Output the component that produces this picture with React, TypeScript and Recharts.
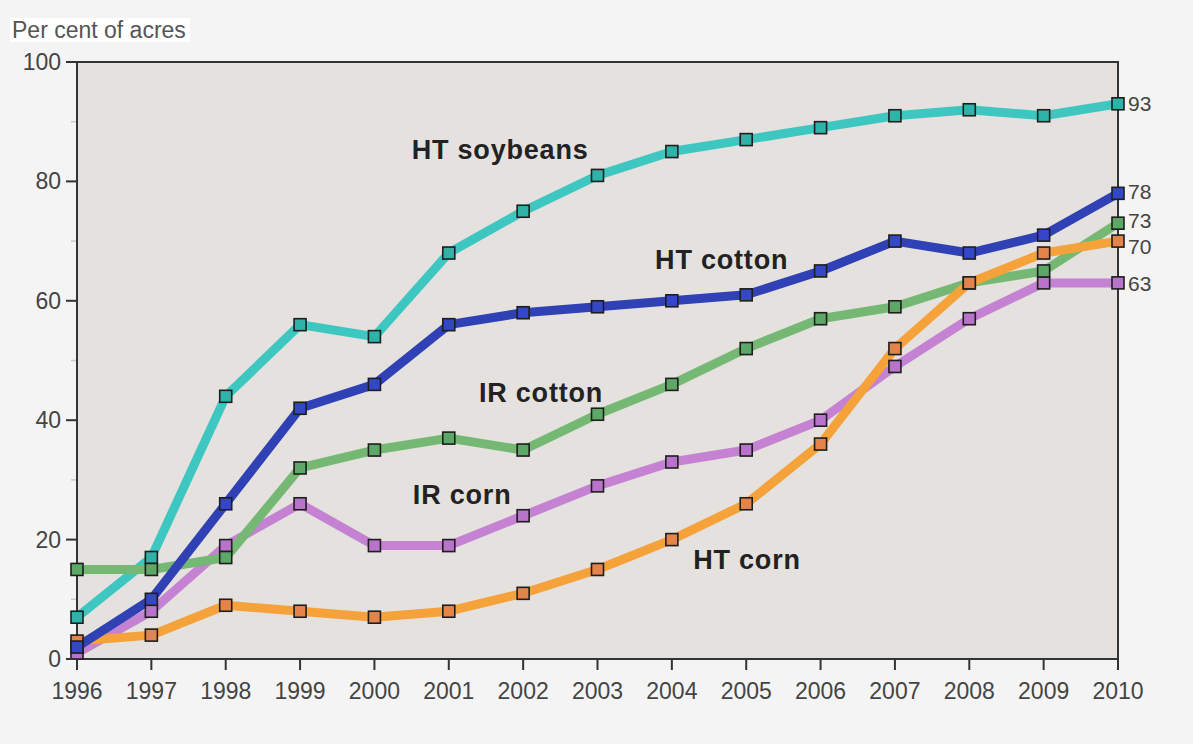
import { LineChart, Line, XAxis, YAxis, ReferenceArea, ReferenceDot } from 'recharts';

const years = [1996, 1997, 1998, 1999, 2000, 2001, 2002, 2003, 2004, 2005, 2006, 2007, 2008, 2009, 2010];
const htSoybeans = [7, 17, 44, 56, 54, 68, 75, 81, 85, 87, 89, 91, 92, 91, 93];
const htCotton = [2, 10, 26, 42, 46, 56, 58, 59, 60, 61, 65, 70, 68, 71, 78];
const irCotton = [15, 15, 17, 32, 35, 37, 35, 41, 46, 52, 57, 59, 63, 65, 73];
const irCorn = [1, 8, 19, 26, 19, 19, 24, 29, 33, 35, 40, 49, 57, 63, 63];
const htCorn = [3, 4, 9, 8, 7, 8, 11, 15, 20, 26, 36, 52, 63, 68, 70];
const yTicks = [0, 10, 20, 30, 40, 50, 60, 70, 80, 90, 100];

// annotation text placed at data coordinates
const annotations = [
  { text: 'HT soybeans', year: 2001.69, value: 85.3 },
  { text: 'HT cotton', year: 2004.67, value: 66.8 },
  { text: 'IR cotton', year: 2002.24, value: 44.6 },
  { text: 'IR corn', year: 2001.18, value: 27.5 },
  { text: 'HT corn', year: 2005.01, value: 16.6 },
];

const series = [
  { key: 'htSoybeans', line: '#3ec6c1', dot: '#2fb2a8', endDy: 0 },
  { key: 'irCorn', line: '#c581d2', dot: '#b874cb', endDy: 1 },
  { key: 'irCotton', line: '#74b874', dot: '#5da866', endDy: -3 },
  { key: 'htCorn', line: '#f6a23a', dot: '#e3844a', endDy: 5 },
  { key: 'htCotton', line: '#2f41b4', dot: '#3447c6', endDy: -2 },
];

const data = years.map((year, i) => ({
  year,
  htSoybeans: htSoybeans[i],
  htCotton: htCotton[i],
  irCotton: irCotton[i],
  irCorn: irCorn[i],
  htCorn: htCorn[i],
}));

const FONT = '"Liberation Sans", Arial, sans-serif';

function makeDot(fill: string, endDy: number) {
  return (props: any) => {
    const { cx, cy, index, value } = props;
    return (
      <g key={`d-${index}`}>
        <rect x={cx - 6} y={cy - 6} width={12} height={12} fill={fill} stroke="#1e1e1e" strokeWidth={1.6} />
        {index === years.length - 1 && (
          <text x={cx + 10} y={cy + endDy} dominantBaseline="central" fontSize={21} fill="#444" fontFamily={FONT}>
            {Array.isArray(value) ? value[1] : value}
          </text>
        )}
      </g>
    );
  };
}

function YTick(props: any) {
  const { x, y, payload } = props;
  const major = payload.value % 20 === 0;
  return (
    <g>
      {major ? (
        <line x1={x - 11} x2={x} y1={y} y2={y} stroke="#333" strokeWidth={2} />
      ) : (
        <line x1={x - 6} x2={x - 1} y1={y} y2={y} stroke="#c8c8c8" strokeWidth={1.5} />
      )}
      {major && (
        <text x={x - 16} y={y} textAnchor="end" dominantBaseline="central" fontSize={23} fill="#444" fontFamily={FONT}>
          {payload.value}
        </text>
      )}
    </g>
  );
}

function XTick(props: any) {
  const { x, y, payload } = props;
  return (
    <g>
      <line x1={x} x2={x} y1={y} y2={y + 11} stroke="#333" strokeWidth={2} />
      <text x={x} y={y + 32} textAnchor="middle" dominantBaseline="central" fontSize={23} fill="#444" fontFamily={FONT}>
        {payload.value}
      </text>
    </g>
  );
}

export default function App() {
  return (
    <div style={{ position: 'absolute', left: 0, top: 0, width: 1193, height: 744, background: '#f4f4f4' }}>
      <div
        style={{
          position: 'absolute',
          left: 10,
          top: 18,
          padding: '0 4px 0 2px',
          background: '#ffffff',
          fontFamily: FONT,
          fontSize: 23,
          lineHeight: '24px',
          color: '#555',
        }}
      >
        Per cent of acres
      </div>
      <LineChart width={1193} height={744} data={data} margin={{ top: 62, right: 75, left: 0, bottom: 0 }}>
        <ReferenceArea x1={1996} x2={2010} y1={0} y2={100} fill="#e4e1df" fillOpacity={1} stroke="#333" strokeWidth={2} />
        <XAxis
          dataKey="year"
          type="number"
          domain={[1996, 2010]}
          ticks={years}
          height={85}
          axisLine={{ stroke: '#333', strokeWidth: 2 }}
          tickLine={false}
          tickSize={0}
          tickMargin={0}
          tick={<XTick />}
        />
        <YAxis
          type="number"
          domain={[0, 100]}
          ticks={yTicks}
          width={77}
          axisLine={{ stroke: '#333', strokeWidth: 2 }}
          tickLine={false}
          tickSize={0}
          tickMargin={0}
          tick={<YTick />}
        />
        {series.map((s) => (
          <Line
            key={s.key}
            dataKey={s.key}
            type="linear"
            stroke={s.line}
            strokeWidth={9}
            strokeLinejoin="round"
            dot={makeDot(s.dot, s.endDy)}
            activeDot={false}
            isAnimationActive={false}
          />
        ))}
        {annotations.map((a) => (
          <ReferenceDot
            key={a.text}
            x={a.year}
            y={a.value}
            r={0}
            shape={(p: any) => (
              <text
                x={p.cx}
                y={p.cy}
                textAnchor="middle"
                dominantBaseline="central"
                fontSize={27}
                letterSpacing={0.8}
                fontWeight="bold"
                fill="#222"
                fontFamily={FONT}
              >
                {a.text}
              </text>
            )}
          />
        ))}
      </LineChart>
    </div>
  );
}
